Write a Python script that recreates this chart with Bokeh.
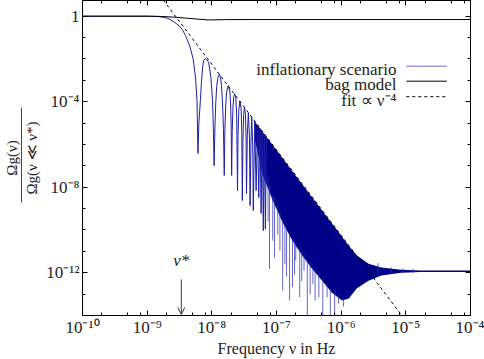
import numpy as np
from bokeh.plotting import figure
from bokeh.models import Range1d, FixedTicker, LogAxis, Label, Arrow, OpenHead
from bokeh.embed import file_html
from bokeh.resources import INLINE

# ---------------- data (log10 values) ----------------
# inflationary scenario, resolved part: log10(nu / Hz), log10(Omega ratio)
infl_log_nu = [-10.0, -9.0, -8.85, -8.75, -8.68, -8.635, -8.57, -8.508, -8.45, -8.406,
               -8.341, -8.290, -8.253, -8.229, -8.2147,
               -8.200, -8.177, -8.162, -8.142, -8.127, -8.101, -8.075, -8.050, -8.015, -7.989, -7.974, -7.965,
               -7.952, -7.940, -7.925, -7.908, -7.887, -7.866, -7.850, -7.834, -7.820, -7.808,
               -7.798, -7.786, -7.772, -7.745, -7.722, -7.708, -7.700, -7.6936,
               -7.685, -7.672, -7.660, -7.646, -7.630, -7.616, -7.603,
               -7.595, -7.583, -7.566, -7.548, -7.537, -7.528,
               -7.519, -7.508, -7.495, -7.480, -7.470, -7.464,
               -7.452, -7.435, -7.418, -7.4084,
               -7.395, -7.383, -7.368, -7.359,
               -7.336, -7.315, -7.294, -7.2745, -7.256, -7.238, -7.220, -7.204, -7.188, -7.172, -7.156]
infl_log_omega = [0.0, 0.0, -0.01, -0.05, -0.10, -0.168, -0.30, -0.435, -0.66, -0.913,
                  -1.39, -1.99, -2.85, -3.94, -6.42,
                  -5.0, -3.94, -3.15, -2.39, -2.07, -1.99, -2.05, -2.15, -2.85, -3.94, -5.49, -6.99,
                  -5.2, -4.1, -3.3, -2.9, -2.73, -2.85, -3.25, -4.1, -5.3, -7.45,
                  -5.3, -4.2, -3.55, -3.24, -3.5, -4.2, -5.3, -7.45,
                  -5.4, -4.2, -3.75, -3.63, -3.8, -4.6, -8.16,
                  -5.6, -4.4, -3.98, -4.3, -5.4, -8.62,
                  -5.8, -4.6, -4.26, -4.6, -5.8, -8.30,
                  -5.6, -4.52, -5.7, -8.86,
                  -5.9, -4.73, -6.0, -9.09,
                  -4.92, -8.16, -5.09, -8.48, -5.24, -9.23, -5.39, -10.03, -5.52, -9.95, -5.64]

# inflationary scenario, densely oscillating part: envelopes of the filled band
dense_log_nu = [-7.333, -7.211, -7.058, -6.905, -6.753, -6.600, -6.447, -6.295, -6.142,
                -5.989, -5.882, -5.760, -5.577, -5.379, -5.073, -4.768, -4.0]
dense_log_upper = [-4.95, -5.43, -6.04, -6.65, -7.26, -7.87, -8.48, -9.09, -9.70,
                   -10.31, -10.74, -11.18, -11.58, -11.76, -11.86, -11.90, -11.90]
dense_log_lower = [-5.82, -7.45, -8.62, -9.65, -10.50, -11.20, -11.82, -12.37, -12.93,
                   -13.30, -13.21, -12.74, -12.37, -12.13, -12.00, -11.97, -11.97]

# individual deep minima sticking out of the band
spike_log_nu = [-7.13, -7.108, -7.058, -7.03, -6.98, -6.947, -6.905, -6.87, -6.844, -6.798,
                -6.753, -6.72, -6.702, -6.641, -6.61, -6.574, -6.524, -6.48, -6.437, -6.403,
                -6.345, -6.284, -6.218, -6.168, -6.101, -6.040, -5.963,
                -5.429, -5.226, -5.043, -4.89]
spike_log_top = [-7.5, -7.92, -8.39, -8.5, -8.8, -9.09, -9.56, -9.7, -9.93, -10.17,
                 -10.40, -10.5, -10.59, -10.87, -11.0, -11.15, -11.43, -11.5, -11.71, -11.80,
                 -11.99, -12.27, -12.55, -12.74, -12.84, -13.02, -13.21,
                 -11.55, -11.75, -11.80, -11.82]
spike_log_bottom = [-9.6, -11.82, -10.50, -11.3, -10.2, -10.96, -12.84, -11.6, -12.18, -13.30,
                    -12.68, -12.1, -11.43, -13.15, -12.4, -11.90, -14.5, -13.0, -12.52, -13.30,
                    -13.15, -14.5, -13.15, -14.5, -14.5, -13.44, -13.58,
                    -12.10, -12.05, -12.00, -12.00]

# bag model
bag_log_nu = [-10.0, -9.0, -8.8, -8.6, -8.4, -8.2, -8.05, -7.8, -7.4, -4.0]
bag_log_omega = [0.0, 0.0, -0.01, -0.04, -0.09, -0.14, -0.175, -0.16, -0.155, -0.155]

# fit  ~ nu^-4 (two end points of the straight line in log-log)
fit_nu = [10 ** -8.75, 1e-5]
fit_omega = [10 ** 0.75, 10 ** -14.25]

nu_star = 3.37e-9

x_major = [1e-10, 1e-9, 1e-8, 1e-7, 1e-6, 1e-5, 1e-4]
x_tick_labels = ["10⁻¹⁰", "10⁻⁹", "10⁻⁸", "10⁻⁷", "10⁻⁶", "10⁻⁵", "10⁻⁴"]
x_minor = [m * d for d in x_major[:-1] for m in (2, 5, 8)]
y_major = [1e-12, 1e-8, 1e-4, 1.0]
y_tick_labels = ["10⁻¹²", "10⁻⁸", "10⁻⁴", "1"]
y_minor = [10.0 ** k for k in range(-14, 1) if k not in (-12, -8, -4, 0)]

legend_labels = ["inflationary scenario", "bag model", "fit ∝ ν⁻⁴"]
x_title = "Frequency ν in Hz"
y_title_num = "Ωg(ν)"
y_title_den = "Ωg(ν ≪ ν*)"

# ---------------- layout helpers (page pixel -> data position) ----------------
def px_x(x):
    return 10 ** (-10 + (x - 77.0) / 65.5)

def px_y(y):
    return 10 ** (0.735 - y / 21.38)

FONT = "Liberation Serif"
BLUE = "#1e1ea8"
TXT = "#222222"

p = figure(width=484, height=359, x_axis_type="log", y_axis_type="log",
           x_range=Range1d(1e-10, 1e-4), y_range=Range1d(1e-14, 10 ** 0.735),
           output_backend="svg", toolbar_location=None,
           min_border_left=77, min_border_right=14, min_border_top=0, min_border_bottom=44)
p.grid.visible = False
p.outline_line_color = "black"
p.outline_line_width = 1
p.background_fill_color = "white"
p.border_fill_color = "white"

# data renderers
p.varea(x=10 ** np.array(dense_log_nu), y1=10 ** np.array(dense_log_lower),
        y2=10 ** np.array(dense_log_upper), fill_color="#000088", fill_alpha=1.0)
p.segment(x0=10 ** np.array(spike_log_nu), y0=10 ** np.array(spike_log_top),
          x1=10 ** np.array(spike_log_nu), y1=10 ** np.array(spike_log_bottom),
          line_color="#3535b8", line_width=0.9, line_alpha=0.85)
p.line(10 ** np.array(infl_log_nu), 10 ** np.array(infl_log_omega), line_color=BLUE, line_width=1)
p.line(10 ** np.array(bag_log_nu), 10 ** np.array(bag_log_omega), line_color="black", line_width=1)
p.line(fit_nu, fit_omega, line_color="black", line_width=1, line_dash="3 3")

# axes
def style_axis(ax, show_labels):
    ax.axis_line_color = "black"
    ax.major_tick_line_color = "black"
    ax.minor_tick_line_color = "black"
    ax.major_tick_in = 5
    ax.major_tick_out = 0
    ax.minor_tick_in = 3
    ax.minor_tick_out = 0
    ax.major_label_text_font = FONT
    ax.major_label_text_color = TXT
    ax.axis_label_text_font = FONT
    ax.axis_label_text_font_style = "normal"
    ax.axis_label_text_color = TXT
    if show_labels:
        ax.major_label_text_font_size = "17px"
    else:
        ax.major_label_text_font_size = "1px"
        ax.major_label_text_alpha = 0
        ax.major_label_standoff = 0

xa = p.xaxis[0]
xa.ticker = FixedTicker(ticks=x_major, minor_ticks=x_minor)
xa.major_label_overrides = dict(zip(x_major, x_tick_labels))
style_axis(xa, True)
xa.major_label_standoff = 2
xa.axis_label = x_title
xa.axis_label_text_font_size = "16px"
xa.axis_label_standoff = 0

ya = p.yaxis[0]
ya.ticker = FixedTicker(ticks=y_major, minor_ticks=y_minor)
ya.major_label_overrides = dict(zip(y_major, y_tick_labels))
style_axis(ya, True)
ya.major_label_standoff = 3
ya.axis_label = y_title_den
ya.axis_label_text_font_size = "15px"
ya.axis_label_standoff = 3

# extra left axis: its (bounded) axis line is the fraction bar, its label the numerator
bar = LogAxis(ticker=FixedTicker(ticks=[]), bounds=(px_y(202), px_y(107)))
bar.axis_line_color = "#333333"
bar.axis_line_width = 0.9
bar.major_tick_in = 0
bar.major_tick_out = 0
bar.minor_tick_in = 0
bar.minor_tick_out = 0
bar.axis_label = y_title_num
bar.axis_label_text_font = FONT
bar.axis_label_text_font_size = "15px"
bar.axis_label_text_font_style = "normal"
bar.axis_label_text_color = TXT
bar.axis_label_standoff = 2
p.add_layout(bar, "left")

top = LogAxis(ticker=FixedTicker(ticks=x_major, minor_ticks=x_minor))
style_axis(top, False)
p.add_layout(top, "above")
right = LogAxis(ticker=FixedTicker(ticks=y_major, minor_ticks=y_minor))
style_axis(right, False)
p.add_layout(right, "right")

# nu* arrow
p.add_layout(Arrow(end=OpenHead(size=7, line_color="#333333", line_width=1),
                   x_start=nu_star, y_start=px_y(279), x_end=nu_star, y_end=px_y(314),
                   line_color="#333333", line_width=1))
p.add_layout(Label(x=nu_star, y=px_y(260), text="ν*", text_font=FONT, text_font_size="17px",
                   text_font_style="italic", text_align="center", text_baseline="middle",
                   text_color=TXT))

# legend (text on the left, sample line on the right)
legend_styles = [dict(line_color="#9a9ae0", line_width=1.5),
                 dict(line_color="black", line_width=1),
                 dict(line_color="black", line_width=1, line_dash="3 3")]
row_line_y = [65.7, 80.7, 96.2]
for lab, st, ly in zip(legend_labels, legend_styles, row_line_y):
    p.add_layout(Label(x=px_x(395), y=px_y(ly + 3.5), text=lab, text_font=FONT,
                       text_font_size="17px", text_align="right", text_baseline="alphabetic",
                       text_color=TXT))
    p.add_layout(Arrow(end=None, x_start=px_x(405), y_start=px_y(ly), x_end=px_x(446),
                       y_end=px_y(ly), **st))

open("out.html", "w").write(file_html(p, INLINE))
